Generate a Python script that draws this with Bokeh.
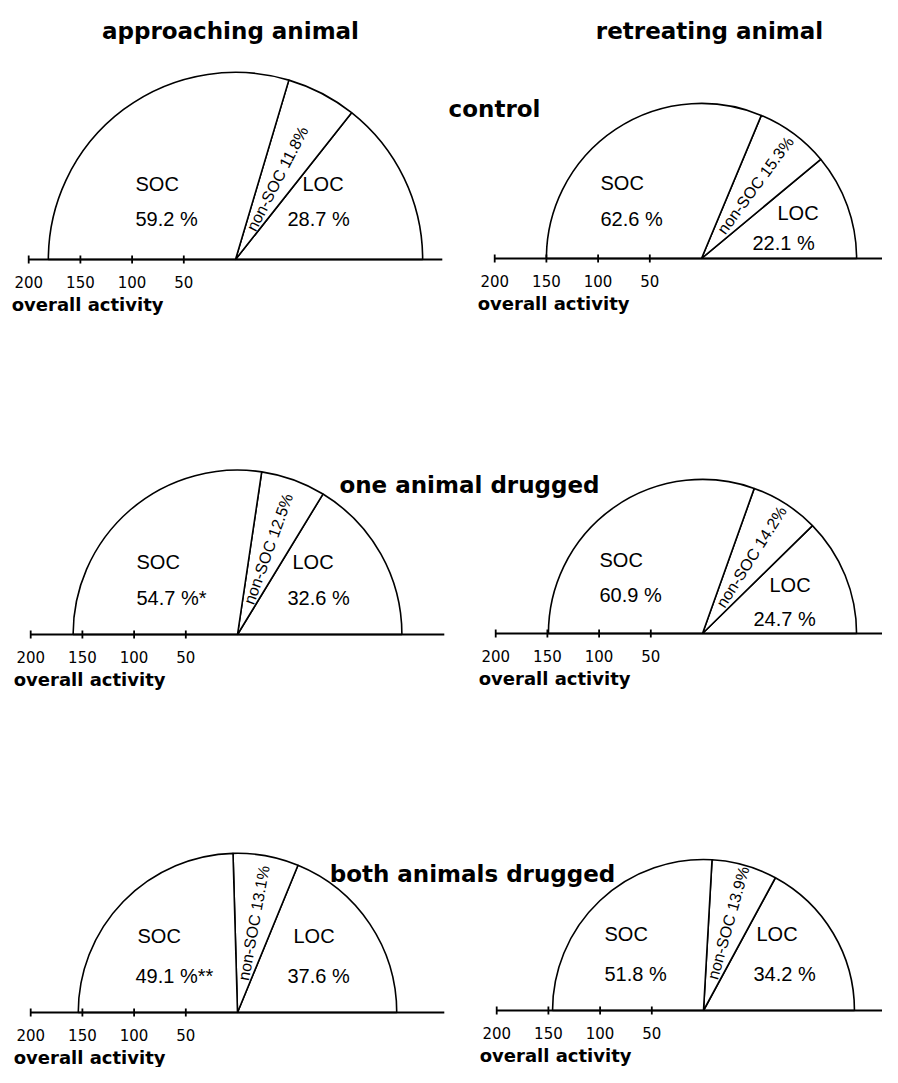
import math
from bokeh.plotting import figure
from bokeh.models import ColumnDataSource, Range1d
from bokeh.core.properties import value
from bokeh.embed import file_html
from bokeh.resources import INLINE

# ---------------- data ----------------
panels = ["approaching / control", "retreating / control",
          "approaching / one drugged", "retreating / one drugged",
          "approaching / both drugged", "retreating / both drugged"]
soc_pct = [59.2, 62.6, 54.7, 60.9, 49.1, 51.8]
nonsoc_pct = [11.8, 15.3, 12.5, 14.2, 13.1, 13.9]
loc_pct = [28.7, 22.1, 32.6, 24.7, 37.6, 34.2]
overall_activity = [181, 150, 159, 149, 154, 146]
significance = ["", "", "*", "", "**", ""]
tick_values = [200, 150, 100, 50]
column_titles = ["approaching animal", "retreating animal"]
row_titles = ["control", "one animal drugged", "both animals drugged"]

# ---------------- layout (pixels) ----------------
W, H = 882, 1067
K = 1.034  # pixels per activity unit
row_shift = [-2, -9, -17]
centers_px = [(235, 261), (701, 260), (237, 643), (702, 642), (237, 1029), (703, 1027)]
axis_right = [200, 215, 200, 215, 200, 215]
soc_off = [(-100, -76), (-101, -76), (-101, -73), (-103, -74), (-100, -77), (-99, -77)]
socp_off = [(-100, -41), (-101, -40), (-101, -37), (-103, -39), (-102, -37), (-99, -37)]
loc_off = [(67, -76), (76, -46), (55, -73), (67, -49), (56, -77), (53, -77)]
locp_off = [(52, -41), (51, -16), (50, -37), (51, -15), (50, -37), (50, -37)]
col_title_px = [(230, 30), (709, 30)]
row_title_px = [(494, 110), (469, 493), (472, 890)]


def X(px):
    return px / K


def Y(py):
    return (H - py) / K


p = figure(width=W, height=H, output_backend="svg", toolbar_location=None,
           x_range=Range1d(0, W / K), y_range=Range1d(0, H / K),
           min_border=0, outline_line_color=None)
p.axis.visible = False
p.grid.visible = False

cx = [X(c[0]) for c in centers_px]
cy = [Y(c[1] + row_shift[i // 2]) for i, c in enumerate(centers_px)]

# wedges
wx, wy, wr, ws, we = [], [], [], [], []
for i in range(6):
    a_loc = loc_pct[i] / 100 * math.pi
    a_soc = math.pi - soc_pct[i] / 100 * math.pi
    for s, e in [(0, a_loc), (a_loc, a_soc), (a_soc, math.pi)]:
        wx.append(cx[i]); wy.append(cy[i]); wr.append(overall_activity[i])
        ws.append(s); we.append(e)
p.wedge(x="x", y="y", radius="r", start_angle="s", end_angle="e",
        source=ColumnDataSource(dict(x=wx, y=wy, r=wr, s=ws, e=we)),
        fill_color="white", line_color="black", line_width=1.6)

# axes
p.segment(x0=[cx[i] - 200 for i in range(6)], y0=cy,
          x1=[cx[i] + axis_right[i] for i in range(6)], y1=cy,
          line_color="black", line_width=2)
tx, ty0, ty1, lx, ly, lt = [], [], [], [], [], []
for i in range(6):
    for t in tick_values:
        tx.append(cx[i] - t); ty0.append(cy[i] - 4 / K); ty1.append(cy[i] + 4 / K)
        lx.append(cx[i] - t); ly.append(cy[i] - 22 / K); lt.append(str(t))
p.segment(x0=tx, y0=ty0, x1=tx, y1=ty1, line_color="black", line_width=1.8)
p.text(x=lx, y=ly, text=lt, text_align="center", text_baseline="middle",
       text_font=value("DejaVu Sans"), text_font_size="15px", text_color="black")
p.text(x=[cx[i] - 200 - 17 / K for i in range(6)], y=[cy[i] - 45 / K for i in range(6)],
       text=["overall activity"] * 6, text_align="left", text_baseline="middle",
       text_font=value("DejaVu Sans"), text_font_style="bold", text_font_size="18px",
       text_color="black")

# labels in wedges
def place(offs):
    return ([cx[i] + offs[i][0] / K for i in range(6)],
            [cy[i] - offs[i][1] / K for i in range(6)])

common = dict(text_align="left", text_baseline="alphabetic",
              text_font=value("Liberation Sans"), text_font_size="20px", text_color="black")
x1, y1 = place(soc_off)
p.text(x=x1, y=y1, text=["SOC"] * 6, **common)
x2, y2 = place(socp_off)
p.text(x=x2, y=y2, text=[f"{soc_pct[i]} %{significance[i]}" for i in range(6)], **common)
x3, y3 = place(loc_off)
p.text(x=x3, y=y3, text=["LOC"] * 6, **common)
x4, y4 = place(locp_off)
p.text(x=x4, y=y4, text=[f"{loc_pct[i]} %" for i in range(6)], **common)

# rotated non-SOC labels along the wedge bisector
nx, ny, na, nt = [], [], [], []
for i in range(6):
    a = (loc_pct[i] / 100 * math.pi + math.pi - soc_pct[i] / 100 * math.pi) / 2
    r = 88
    nx.append(cx[i] + r * math.cos(a)); ny.append(cy[i] + r * math.sin(a))
    na.append(a); nt.append(f"non-SOC {nonsoc_pct[i]}%")
p.text(x=nx, y=ny, text=nt, angle=na, text_align="center", text_baseline="middle",
       text_font=value("Liberation Sans"), text_font_size="16px", text_color="black")

# titles
p.text(x=[X(c[0]) for c in col_title_px], y=[Y(c[1]) for c in col_title_px],
       text=column_titles, text_align="center", text_baseline="alphabetic",
       text_font=value("DejaVu Sans"), text_font_style="bold", text_font_size="23px",
       text_color="black")
p.text(x=[X(c[0]) for c in row_title_px],
       y=[Y(c[1] + row_shift[j]) for j, c in enumerate(row_title_px)],
       text=row_titles, text_align="center", text_baseline="alphabetic",
       text_font=value("DejaVu Sans"), text_font_style="bold", text_font_size="23px",
       text_color="black")

open("out.html", "w").write(file_html(p, INLINE))
